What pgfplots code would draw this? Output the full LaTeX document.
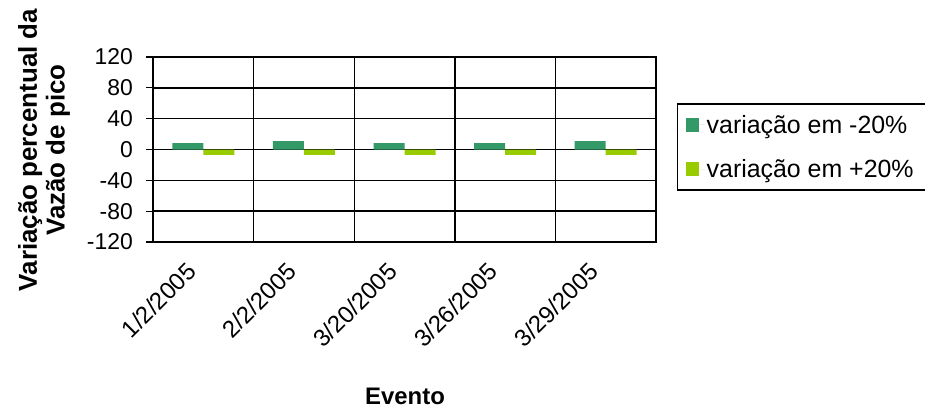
\documentclass[border=0pt]{standalone}
\usepackage{pgfplots}
\pgfplotsset{compat=1.18}
\usepackage{fontspec}
\setmainfont{Liberation Sans}
\definecolor{cgreen}{HTML}{339966}
\definecolor{clime}{HTML}{99CC00}
\pgfplotstableread{
x neg pos
0 8.2 -6.9
1 10.8 -6.9
2 8.2 -6.9
3 8.2 -6.9
4 10.8 -6.9
}\datatable
\begin{document}
\begin{tikzpicture}[x=1bp,y=1bp]
\useasboundingbox (0,0) rectangle (925,408);
\begin{axis}[
  at={(153bp,166bp)}, anchor=south west,
  width=503bp, height=185bp, scale only axis,
  ybar=0pt, bar width=31bp,
  xmin=-0.5, xmax=4.5, ymin=-120, ymax=120,
  xtick={0,1,2,3,4},
  xticklabels={1/2/2005,2/2/2005,3/20/2005,3/26/2005,3/29/2005},
  minor xtick={-0.5,0.5,1.5,2.5,3.5,4.5},
  xminorgrids, ymajorgrids,
  ytick={-120,-80,-40,0,40,80,120},
  major x tick style={draw=none},
  minor x tick style={draw=none},
  ytick pos=left, ytick align=outside, major tick length=7bp,
  y tick style={black, line width=1.1bp},
  grid style={black, line width=1.4bp},
  minor grid style={black, line width=1.4bp},
  axis line style={black, line width=1.4bp},
  /pgf/number format/assume math mode=true,
  ticklabel style={font=\fontsize{23}{26}\selectfont},
  yticklabel style={inner xsep=0pt, xshift=-13bp},
  xticklabel style={inner sep=0pt, anchor=north east, xshift=-18bp, yshift=-12bp, rotate=45, font=\fontsize{24}{26}\selectfont},
  legend style={at={(1,0.5)}, anchor=west, xshift=21bp, yshift=2.5bp, draw=black, line width=1.4bp,
    font=\fontsize{25}{27}\selectfont, inner xsep=8bp, inner ysep=9bp, row sep=21bp,
    cells={anchor=west}},
  legend image code/.code={\fill[#1, draw=none] (0bp,-7bp) rectangle (13bp,7bp); \path (0bp,0bp) -- (19bp,0bp);},
]
\addplot[fill=cgreen, draw=none] table[x=x, y=neg] {\datatable};
\addplot[fill=clime, draw=none] table[x=x, y=pos] {\datatable};
\legend{variação em -20\%, {\makebox[216bp][l]{variação em +20\%}}}
\end{axis}
\node[rotate=90, align=center, font=\bfseries\fontsize{26}{28}\selectfont] at (44,258) {Variação percentual da\\Vazão de pico};
\node[font=\bfseries\fontsize{24}{26}\selectfont] at (405,12) {Evento};
\end{tikzpicture}
\end{document}
